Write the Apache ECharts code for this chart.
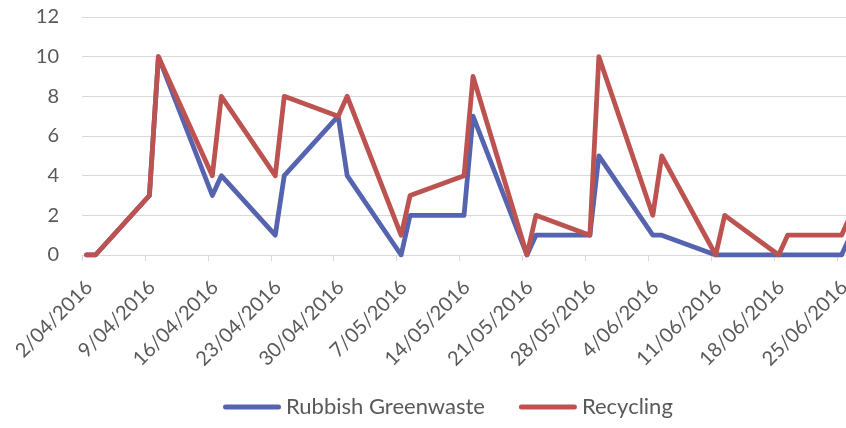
<!DOCTYPE html>
<html>
<head>
<meta charset="utf-8">
<script src="https://cdn.jsdelivr.net/npm/echarts@6/dist/echarts.min.js"></script>
<style>
  html, body { margin: 0; padding: 0; background: #ffffff; }
  #chart { width: 846px; height: 428px; }
</style>
</head>
<body>
<div id="chart"></div>
<script>
// Collection days (weekends), d/mm/yyyy
const dates = [
  '2/04/2016', '3/04/2016', '9/04/2016', '10/04/2016', '16/04/2016', '17/04/2016',
  '23/04/2016', '24/04/2016', '30/04/2016', '1/05/2016', '7/05/2016', '8/05/2016',
  '14/05/2016', '15/05/2016', '21/05/2016', '22/05/2016', '28/05/2016', '29/05/2016',
  '4/06/2016', '5/06/2016', '11/06/2016', '12/06/2016', '18/06/2016', '19/06/2016',
  '25/06/2016', '26/06/2016'
];
const rubbishGreenwaste = [0, 0, 3, 10, 3, 4, 1, 4, 7, 4, 0, 2, 2, 7, 0, 1, 1, 5, 1, 1, 0, 0, 0, 0, 0, 1];
const recycling         = [0, 0, 3, 10, 4, 8, 4, 8, 7, 8, 1, 3, 4, 9, 0, 2, 1, 10, 2, 5, 0, 2, 0, 1, 1, 2];

// Weekly date labels on the horizontal axis
const tickLabels = [
  '2/04/2016', '9/04/2016', '16/04/2016', '23/04/2016', '30/04/2016', '7/05/2016',
  '14/05/2016', '21/05/2016', '28/05/2016', '4/06/2016', '11/06/2016', '18/06/2016',
  '25/06/2016'
];
const yMin = 0, yMax = 12, yStep = 2;

const DAY = 86400000;
function toUTC(s) {
  const [d, m, y] = s.split('/').map(Number);
  return Date.UTC(y, m - 1, d);
}
const origin = toUTC(tickLabels[0]);
// days since the first label; each point sits in the middle of its day
function dayPos(s) { return (toUTC(s) - origin) / DAY + 0.5; }

function pairs(values) { return dates.map((s, i) => [dayPos(s), values[i]]); }

const FONT = 'Lato, "Open Sans", sans-serif';
const TEXT = '#595959';
const GRIDC = '#d9d9d9';
const BLUE = '#5664b0';
const RED = '#bd5350';

// capsule-shaped legend swatch, like a short thick line
const SWATCH = 'path://M2.5,0 L55.5,0 A2.5,2.5 0 0 1 55.5,5 L2.5,5 A2.5,2.5 0 0 1 2.5,0 Z';

const chart = echarts.init(document.getElementById('chart'), null, { renderer: 'canvas' });
chart.setOption({
  animation: false,
  textStyle: { fontFamily: FONT },
  grid: { left: 82, right: -54, top: 17, bottom: 173, outerBoundsMode: 'none', containLabel: false },
  xAxis: {
    type: 'value',
    min: 0,
    max: 91,
    interval: 7,
    axisLine: { show: true, lineStyle: { color: GRIDC, width: 1 } },
    axisTick: { show: true, length: 6, lineStyle: { color: GRIDC } },
    splitLine: { show: false },
    axisLabel: {
      rotate: 45,
      margin: 22,
      verticalAlign: 'top',
      color: TEXT,
      fontSize: 20,
      fontFamily: FONT,
      formatter: v => tickLabels[Math.round(v / 7)] || ''
    }
  },
  yAxis: {
    type: 'value',
    min: yMin,
    max: yMax,
    interval: yStep,
    axisLine: { show: false },
    axisTick: { show: false },
    splitLine: { lineStyle: { color: GRIDC, width: 1 } },
    axisLabel: { color: TEXT, fontSize: 20, fontFamily: FONT, margin: 23 }
  },
  legend: {
    left: 223,
    top: 396,
    padding: 0,
    icon: SWATCH,
    itemWidth: 58,
    itemHeight: 5,
    itemGap: 34,
    textStyle: { color: TEXT, fontSize: 22, fontFamily: FONT },
    data: [
      { name: 'Rubbish Greenwaste', itemStyle: { color: BLUE } },
      { name: 'Recycling', itemStyle: { color: RED } }
    ]
  },
  series: [
    {
      name: 'Rubbish Greenwaste',
      type: 'line',
      data: pairs(rubbishGreenwaste),
      symbol: 'none',
      color: BLUE,
      lineStyle: { width: 4.8, cap: 'round', join: 'round', color: BLUE }
    },
    {
      name: 'Recycling',
      type: 'line',
      data: pairs(recycling),
      symbol: 'none',
      color: RED,
      lineStyle: { width: 4.8, cap: 'round', join: 'round', color: RED }
    }
  ]
});
</script>
</body>
</html>
